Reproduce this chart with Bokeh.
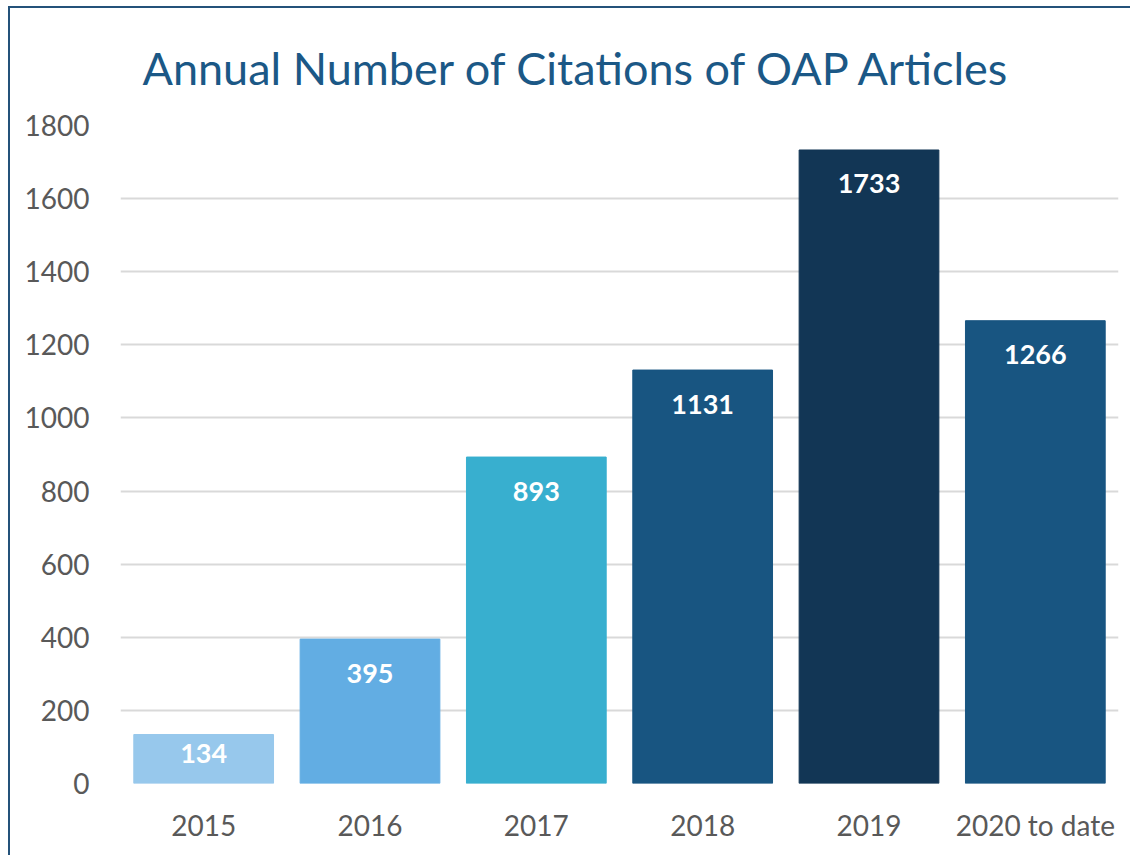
from bokeh.plotting import figure
from bokeh.models import ColumnDataSource, LabelSet, FixedTicker, Title, FactorRange
from bokeh.core.properties import value
from bokeh.embed import file_html
from bokeh.resources import INLINE

years = ["2015", "2016", "2017", "2018", "2019", "2020 to date"]
citations = [134, 395, 893, 1131, 1733, 1266]
bar_colors = ["#97C8EC", "#62ADE3", "#38AFCF", "#185581", "#123655", "#185581"]
y_ticks = [0, 200, 400, 600, 800, 1000, 1200, 1400, 1600, 1800]
title_text = "Annual Number of Citations of OAP Articles"

FONT = "Lato"

label_offsets = [-19 if v < 200 else -34 for v in citations]

src = ColumnDataSource(dict(x=years, y=citations, c=bar_colors,
                            lab=[str(v) for v in citations], off=label_offsets))

p = figure(x_range=FactorRange(*years, range_padding=0), y_range=(0, 1800),
           width=1122, height=849, output_backend="svg", toolbar_location=None,
           min_border_left=110, min_border_right=14, min_border_top=116,
           min_border_bottom=74)

p.vbar(x="x", top="y", width=0.84, color="c", source=src)

labels = LabelSet(x="x", y="y", text="lab", y_offset="off", source=src,
                  text_align="center", text_baseline="middle",
                  text_color="white", text_font=value(FONT),
                  text_font_style="bold", text_font_size="27px")
p.add_layout(labels)

p.outline_line_color = None
p.xgrid.grid_line_color = None
p.ygrid.grid_line_color = "#D9D9D9"
p.ygrid.grid_line_width = 2
p.yaxis.ticker = FixedTicker(ticks=y_ticks)

for ax in (p.xaxis, p.yaxis):
    ax.axis_line_color = None
    ax.major_tick_line_color = None
    ax.minor_tick_line_color = None
    ax.major_label_text_font = FONT
    ax.major_label_text_font_size = "28px"
    ax.major_label_text_color = "#595959"
p.yaxis.major_label_standoff = 25
p.xaxis.major_label_standoff = 18

t = Title(text=title_text, align="left", text_font=FONT,
          text_font_size="45px", text_font_style="normal",
          text_color="#1B5886", standoff=61, offset=22)
p.title = t

p.styles = {"margin-left": "8px", "margin-top": "6px",
            "border-left": "2px solid #24527A", "border-top": "2px solid #24527A"}

open("out.html", "w").write(file_html(p, INLINE))
